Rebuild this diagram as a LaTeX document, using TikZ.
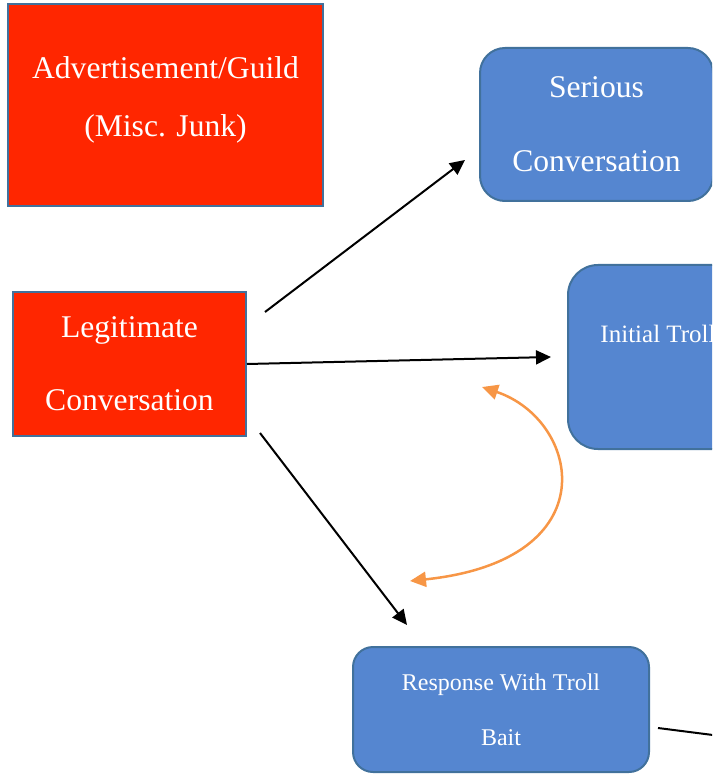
\documentclass[tikz,border=0pt]{standalone}
\usepackage{fontspec}
\setmainfont{Liberation Serif}
\usetikzlibrary{arrows.meta,calc,positioning}
\definecolor{junkred}{HTML}{FF2600}
\definecolor{boxblue}{HTML}{5586D0}
\definecolor{edgeblue}{HTML}{41719C}
\definecolor{baitorange}{HTML}{F79646}
\tikzset{
  redbox/.style={rectangle,draw=edgeblue,fill=junkred,line width=2pt,text=white,align=center,inner sep=0pt},
  bluebox/.style={rectangle,rounded corners=#1,draw=edgeblue,fill=boxblue,line width=2pt,text=white,align=center,inner sep=0pt},
  bluebox/.default=20pt,
  arr/.style={-{Triangle[length=15pt,width=14pt]},line width=2pt},
  baitloop/.style={{Triangle[length=16pt,width=15pt]}-{Triangle[length=16pt,width=15pt]},draw=baitorange,line width=2.5pt},
}
\begin{document}
\begin{tikzpicture}[x=1pt,y=-1pt]
  \useasboundingbox (0,0) rectangle (712,775);
  \clip (0,0) rectangle (712,775);

  % Draw the boxes
  \node[redbox,minimum width=315pt,minimum height=202pt] (ad) at (165.5,105) {};
  \node[text=white,align=center,font=\fontsize{31.6}{58}\selectfont] (adtext) at ([yshift=5pt]ad.center) {Advertisement/Guild\\(Misc. Junk)};
  \node[redbox,minimum width=233pt,minimum height=144pt,font=\fontsize{31.6}{74}\selectfont] (legit) at (129.5,364) {Legitimate\\[-1pt]Conversation};
  \node[bluebox=25pt,minimum width=233pt,minimum height=153pt,font=\fontsize{31.6}{74}\selectfont] (serious) at (596.5,124.5) {Serious\\Conversation};
  \node[bluebox=30pt,minimum width=178pt,minimum height=184pt] (itroll) at (657,357) {};
  \node[text=white,font=\fontsize{25}{30}\selectfont] (itrolltext) at (658,334) {Initial Troll};
  \node[bluebox=20pt,minimum width=296pt,minimum height=125pt,font=\fontsize{24}{55}\selectfont] (resp) at (501,709.5) {Response With Troll\\Bait};

  % Draw the edges
  \draw[arr] ($(legit.north east)+(18,21)$) -- ($(serious.south west)+(-14,-42)$);
  \draw[arr] (legit.east) -- ([xshift=-16pt]itroll.west);
  \draw[arr] ($(legit.south east)+(13,-4)$) -- ($(resp.north west)+(55,-21)$);
  \coordinate (offright) at (760,741);
  \draw[line width=2pt] ($(resp.east)+(8,18.5)$) -- (offright);

  % Draw the bait loop
  \coordinate (loopA) at (482,387);
  \coordinate (loopB) at (410,581);
  \draw[baitloop] (loopA) .. controls (580,420) and (610,560) .. (loopB);
\end{tikzpicture}
\end{document}
